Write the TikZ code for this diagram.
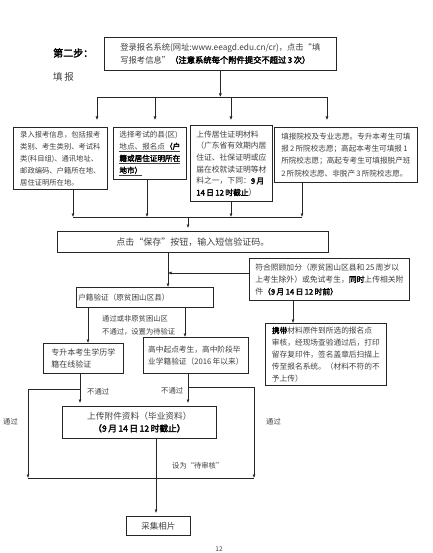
\documentclass[tikz,border=0pt]{standalone}
\usepackage{fontspec}
\setmainfont{Noto Sans CJK SC}[AutoFakeBold=2.5]
\usetikzlibrary{arrows.meta,calc}
\begin{document}
\begin{tikzpicture}[x=1pt,y=-1pt,
  box/.style={draw=black!85, line width=0.7pt, anchor=north west, inner sep=2pt, align=left, text=black!75, font=\fontsize{7.3}{12}\selectfont},
  arr/.style={-{Latex[length=3.5pt,width=3pt]}, line width=0.6pt, draw=black!85},
  ln/.style={line width=0.6pt, draw=black!85},
  lbl/.style={anchor=west, inner sep=0pt, text=black!75, font=\fontsize{7.3}{12}\selectfont}]
\useasboundingbox[fill=white] (0,0) rectangle (432,553);

% labels
\node[lbl, text=black, font=\bfseries\fontsize{10}{12}\selectfont] (step) at (53,53) {第二步：};
\node[lbl, font=\fontsize{9.5}{12}\selectfont] (fill) at (53,77) {填\,报};

% boxes
\node[box, minimum width=232, minimum height=33, font=\fontsize{8.3}{12.3}\selectfont] (T) at (104,37)
  {登录报名系统(网址:www.eeagd.edu.cn/cr)，点击“填\\写报考信息”\textcolor{black}{\textbf{（注意系统每个附件提交不超过\,3\,次）}}};
\node[box, minimum width=94, minimum height=62] (B1) at (13,127)
  {录入报考信息，包括报考\\类别、考生类别、考试科\\类(科目组)、通讯地址、\\邮政编码、户籍所在地、\\居住证明所在地。};
\node[box, minimum width=73, minimum height=52, font=\fontsize{7.6}{12}\selectfont] (B2) at (113,127)
  {选择考试的县(区)\\\underline{地点、报名点}\underline{\textcolor{black}{\textbf{（户}}}\\\underline{\textcolor{black}{\textbf{籍或居住证明所在}}}\\\underline{\textcolor{black}{\textbf{地市）}}}};
\node[box, minimum width=82, minimum height=76, font=\fontsize{7.8}{11.7}\selectfont] (B3) at (190,125)
  {上传居住证明材料\\（广东省有效期内居\\住证、社保证明或应\\届在校就读证明等材\\料之一，下同：\textcolor{black}{\textbf{9\,月}}\\\textcolor{black}{\textbf{14\,日\,12\,时截止}}）};
\node[box, minimum width=143, minimum height=55, font=\fontsize{7.6}{12.2}\selectfont] (B4) at (274,127)
  {填报院校及专业志愿。专升本考生可填\\报\,2\,所院校志愿；高起本考生可填报\,1\\所院校志愿；高起专考生可填报脱产班\\2\,所院校志愿、非脱产\,3\,所院校志愿。};
\node[box, minimum width=271, minimum height=21, align=center, font=\fontsize{9}{12}\selectfont] (S) at (57,231)
  {点击“保存”按钮，输入短信验证码。};
\node[box, minimum width=160, minimum height=42, font=\fontsize{7.8}{12.3}\selectfont] (F) at (249,258)
  {符合照顾加分（原贫困山区县和\,25\,周岁以\\上考生除外）或免试考生，\textcolor{black}{\textbf{同时}}上传相关附\\件\textcolor{black}{\textbf{（9\,月\,14\,日\,12\,时前）}}};
\node[box, minimum height=20, text width=133, font=\fontsize{7.6}{12}\selectfont] (H) at (76,287)
  {户籍验证（原贫困山区县）};
\node[box, minimum width=121, minimum height=62, font=\fontsize{7.7}{11.9}\selectfont] (C) at (265,323)
  {\textcolor{black}{\textbf{携带}}材料原件到所选的报名点\\审核，经现场查验通过后，打印\\留存复印件，签名盖章后扫描上\\传至报名系统。（材料不符的不\\予上传）};
\node[box, minimum width=80, minimum height=30, font=\fontsize{8}{12}\selectfont] (Z) at (43,343)
  {专升本考生学历学\\籍在线验证};
\node[box, minimum width=105, minimum height=36, font=\fontsize{7.7}{12}\selectfont] (G) at (143,337)
  {高中起点考生，高中阶段毕\\业学籍验证（2016\,年以来）};
\node[box, minimum width=154, minimum height=32, align=center, font=\fontsize{8.7}{12}\selectfont] (U) at (62,406)
  {上传附件资料（毕业资料）\\\textcolor{black}{\textbf{（9\,月\,14\,日\,12\,时截止）}}};
\node[box, minimum width=64, minimum height=19, align=center, font=\fontsize{8.5}{12}\selectfont] (P) at (126,516)
  {采集相片};

% edge labels
\node[lbl] (l1) at (102,319) {通过或非原贫困山区};
\node[lbl] (l2) at (102,332) {不通过，设置为待验证};
\node[lbl] (l3) at (87,392) {不通过};
\node[lbl] (l4) at (161,391) {不通过};
\node[lbl] (l5) at (3,422) {通过};
\node[lbl] (l6) at (266,422) {通过};
\node[lbl] (l7) at (172,466) {设为“待审核”};
\node[lbl, anchor=south, font=\fontsize{6.5}{7}\selectfont] (pg) at (219,552) {12};

% coordinates
\coordinate (d1) at (97,97);
\coordinate (d2) at (155,97);
\coordinate (d3) at (231,97);
\coordinate (d4) at (327,97);
\coordinate (u1) at (73,217);
\coordinate (u2) at (147,217);
\coordinate (u3) at (231,217);
\coordinate (u4) at (302,217);
\coordinate (u0) at (188,217);
\coordinate (sx) at (168,273);
\coordinate (fx) at (293,0);
\coordinate (hz) at (88,0);
\coordinate (hg) at (185,0);
\coordinate (zx) at (80,389);
\coordinate (lx) at (28,389);
\coordinate (lb) at (28,478);
\coordinate (gx) at (188,387);
\coordinate (rx) at (254,387);
\coordinate (rb) at (254,478);
\coordinate (ux) at (156,0);

% connectors
\draw[arr] (T.south) -- (T.south |- d1);
\draw[ln] (d1) -- (d4);
\draw[arr] (d1) -- ($(d1 |- B1.north)+(0,-7)$);
\draw[arr] (d2) -- ($(d2 |- B2.north)+(0,-7)$);
\draw[arr] (d3) -- ($(d3 |- B3.north)+(0,-5)$);
\draw[arr] (d4) -- ($(d4 |- B4.north)+(0,-7)$);

\draw[arr] (u1 |- B1.south) -- (u1);
\draw[arr] (u2 |- B2.south) -- (u2);
\draw[arr] (u3 |- B3.south) -- (u3);
\draw[arr] (u4 |- B4.south) -- (u4);
\draw[ln] (u1) -- (u4);
\draw[arr] (u0) -- ($(u0 |- S.north)+(0,-3)$);

\draw[arr] (S.south -| sx) -- (sx |- H.north);
\draw[arr] (sx -| F.west) -- (sx);
\draw[arr] (fx |- F.south) -- (fx |- C.north);

\draw[arr] (hz |- H.south) -- (hz |- Z.north);
\draw[arr] (hg |- H.south) -- (hg |- G.north);

\draw[arr] (zx |- Z.south) -- ($(zx |- U.north)+(0,-3)$);
\draw[ln] (zx) -- (lx);
\draw[arr] (lx) -- (lb);
\draw[arr] (gx |- G.south) -- ($(gx |- U.north)+(0,-3)$);
\draw[ln] (gx) -- (rx);
\draw[arr] (rx) -- (rb);
\draw[ln] (lb) -- (rb);
\draw[arr] (ux |- U.south) -- ($(ux |- P.north)+(0,-3)$);
\end{tikzpicture}
\end{document}
